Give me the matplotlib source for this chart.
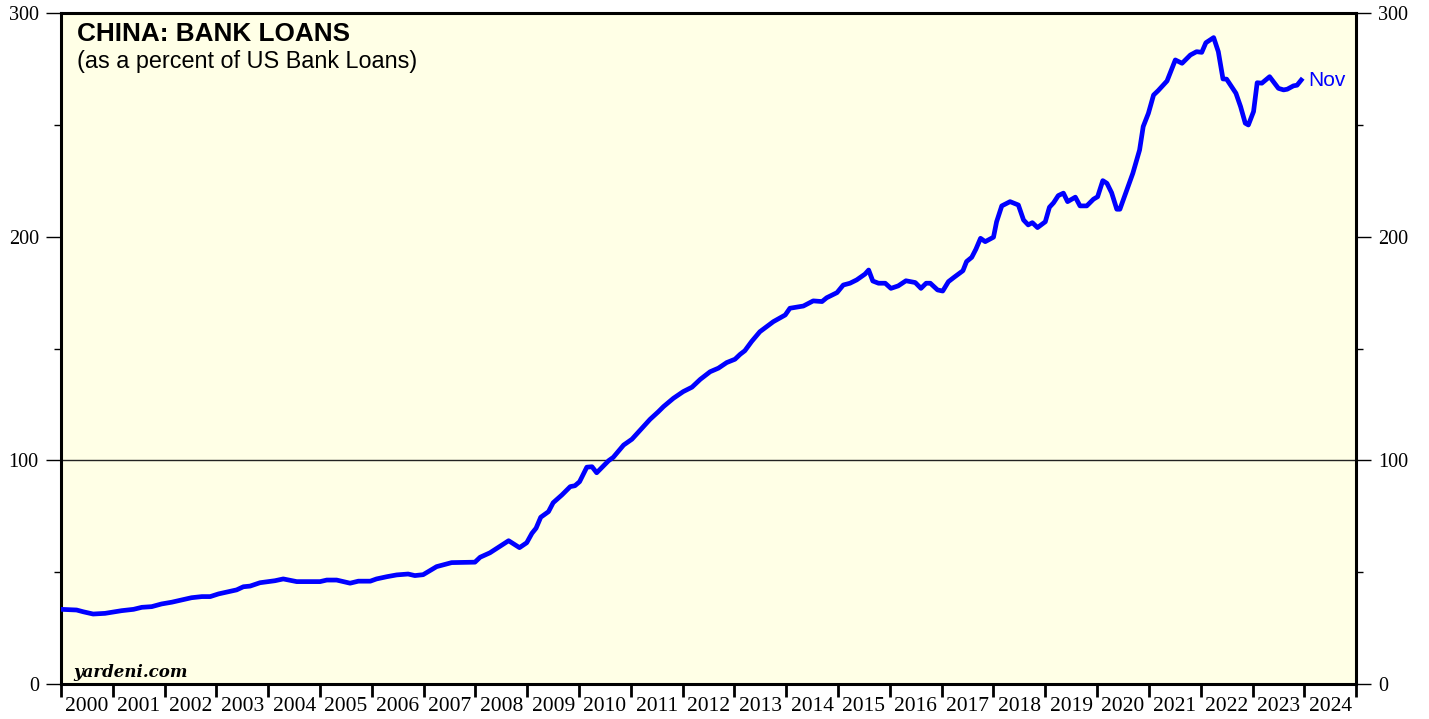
import numpy as np
import matplotlib
matplotlib.use("Agg")
import matplotlib.pyplot as plt
from matplotlib.ticker import MultipleLocator, FixedLocator, NullFormatter

# China bank loans as a percent of US bank loans
years = [2000.00, 2000.30, 2000.43, 2000.62, 2000.85, 2001.17, 2001.40, 2001.56, 2001.75, 2001.94,
         2002.14, 2002.33, 2002.52, 2002.72, 2002.88, 2003.04, 2003.23, 2003.39, 2003.52, 2003.65,
         2003.84, 2004.13, 2004.29, 2004.55, 2004.74, 2005.00, 2005.13, 2005.32, 2005.58, 2005.74,
         2005.97, 2006.09, 2006.29, 2006.48, 2006.70, 2006.83, 2006.99, 2007.12, 2007.25, 2007.54,
         2007.99, 2008.09, 2008.28, 2008.64, 2008.85, 2008.99, 2009.09, 2009.17, 2009.26, 2009.41,
         2009.50, 2009.67, 2009.83, 2009.92, 2010.01, 2010.15, 2010.25, 2010.34, 2010.57, 2010.66,
         2010.86, 2011.02, 2011.18, 2011.37, 2011.53, 2011.63, 2011.82, 2012.01, 2012.18, 2012.34,
         2012.53, 2012.69, 2012.85, 2013.01, 2013.11, 2013.20, 2013.33, 2013.49, 2013.75, 2013.98,
         2014.07, 2014.33, 2014.52, 2014.69, 2014.78, 2014.98, 2015.10, 2015.23, 2015.36, 2015.52,
         2015.59, 2015.67, 2015.78, 2015.91, 2016.02, 2016.16, 2016.31, 2016.49, 2016.60, 2016.70,
         2016.78, 2016.92, 2017.02, 2017.13, 2017.23, 2017.41, 2017.48, 2017.58, 2017.66, 2017.75,
         2017.84, 2018.00, 2018.06, 2018.16, 2018.32, 2018.48, 2018.58, 2018.67, 2018.75, 2018.85,
         2019.00, 2019.08, 2019.16, 2019.25, 2019.35, 2019.43, 2019.58, 2019.67, 2019.80, 2019.93,
         2020.01, 2020.11, 2020.19, 2020.28, 2020.38, 2020.44, 2020.54, 2020.69, 2020.82, 2020.89,
         2020.99, 2021.09, 2021.18, 2021.35, 2021.51, 2021.64, 2021.80, 2021.92, 2022.02, 2022.10,
         2022.25, 2022.34, 2022.43, 2022.50, 2022.68, 2022.77, 2022.86, 2022.92, 2023.02, 2023.09,
         2023.18, 2023.33, 2023.50, 2023.60, 2023.67, 2023.79, 2023.86, 2023.94]
loans = [33.4, 33.1, 32.3, 31.3, 31.6, 32.8, 33.4, 34.3, 34.6, 35.8,
         36.6, 37.6, 38.6, 39.1, 39.1, 40.3, 41.3, 42.1, 43.5, 43.8,
         45.3, 46.2, 47.0, 45.8, 45.8, 45.8, 46.5, 46.5, 45.1, 46.0,
         46.0, 47.0, 48.0, 48.8, 49.2, 48.5, 48.9, 50.7, 52.5, 54.3,
         54.5, 56.7, 58.7, 64.1, 61.0, 63.2, 67.4, 69.7, 74.6, 77.1,
         81.1, 84.6, 88.3, 88.7, 90.5, 97.0, 97.2, 94.5, 99.9, 101.4,
         106.9, 109.5, 113.6, 118.4, 121.8, 124.1, 127.8, 130.8, 132.8, 136.3,
         139.7, 141.3, 143.8, 145.3, 147.5, 149.1, 153.2, 157.6, 162.1, 165.1,
         168.1, 169.1, 171.4, 171.1, 172.8, 175.1, 178.5, 179.3, 180.8, 183.4,
         185.2, 180.3, 179.3, 179.3, 177.0, 178.1, 180.4, 179.6, 177.0, 179.3,
         179.3, 176.3, 175.8, 180.0, 181.8, 184.9, 189.0, 190.9, 194.5, 199.4,
         197.9, 199.9, 206.8, 213.9, 215.8, 214.3, 207.6, 205.4, 206.4, 204.2,
         206.8, 213.3, 215.3, 218.5, 219.6, 215.8, 217.8, 213.9, 213.9, 216.9,
         218.0, 225.2, 224.0, 219.8, 212.4, 212.4, 218.8, 228.5, 238.9, 249.4,
         255.3, 263.5, 265.5, 269.8, 279.2, 277.7, 281.4, 282.9, 282.6, 286.9,
         289.2, 282.9, 270.7, 270.6, 264.3, 258.3, 250.9, 250.1, 256.1, 269.0,
         268.8, 271.7, 266.5, 265.8, 266.1, 267.6, 267.9, 270.2]

year_labels = [str(y) for y in range(2000, 2025)]

fig = plt.figure(figsize=(14.29, 7.19), dpi=100)
ax = fig.add_axes([0.0427, 0.0487, 0.9063, 0.9326])
ax.set_facecolor('#FFFFE6')

ax.plot(years, loans, color='#0000FF', lw=3.4, solid_joinstyle='round', zorder=3)
ax.axhline(100, color='#222222', lw=1, zorder=2)

ax.set_xlim(2000, 2025)
ax.set_ylim(0, 300)

# x axis: ticks at year boundaries, labels centred between them
ax.xaxis.set_major_locator(FixedLocator(np.arange(2000, 2026)))
ax.xaxis.set_major_formatter(NullFormatter())
ax.xaxis.set_minor_locator(FixedLocator(np.arange(2000.5, 2025, 1.0)))
ax.set_xticklabels(year_labels, minor=True)
ax.tick_params(axis='x', which='major', direction='out', length=9, width=2, color='black')
ax.tick_params(axis='x', which='minor', length=0, pad=9.5, labelsize=15.5)

ax.yaxis.set_major_locator(MultipleLocator(100))
ax.yaxis.set_minor_locator(MultipleLocator(50))
ax.yaxis.set_ticks_position('both')
ax.tick_params(axis='y', which='major', direction='out', length=11, width=1,
               labelsize=14.5, pad=5, labelleft=True, labelright=True)
ax.tick_params(axis='y', which='minor', direction='out', length=5, width=1)

for lab in ax.get_xticklabels(minor=True) + ax.get_yticklabels():
    lab.set_family('Liberation Serif')

for s in ax.spines.values():
    s.set_linewidth(2.2)
    s.set_color('black')

ax.text(0.0124, 0.959, 'CHINA: BANK LOANS', transform=ax.transAxes,
        fontsize=18.8, fontweight='bold', family='Liberation Sans', va='baseline')
ax.text(0.0124, 0.918, '(as a percent of US Bank Loans)', transform=ax.transAxes,
        fontsize=16.8, family='Liberation Sans', va='baseline')
ax.text(0.0093, 0.011, 'yardeni.com', transform=ax.transAxes,
        fontsize=12, fontweight='bold', style='italic', family='DejaVu Serif', va='baseline')

ax.annotate('Nov', xy=(years[-1], loans[-1]), xytext=(5, 0), textcoords='offset points',
            color='#0000FF', fontsize=15, family='Liberation Sans', va='center')

fig.savefig('out.png', dpi=100, facecolor='white')
